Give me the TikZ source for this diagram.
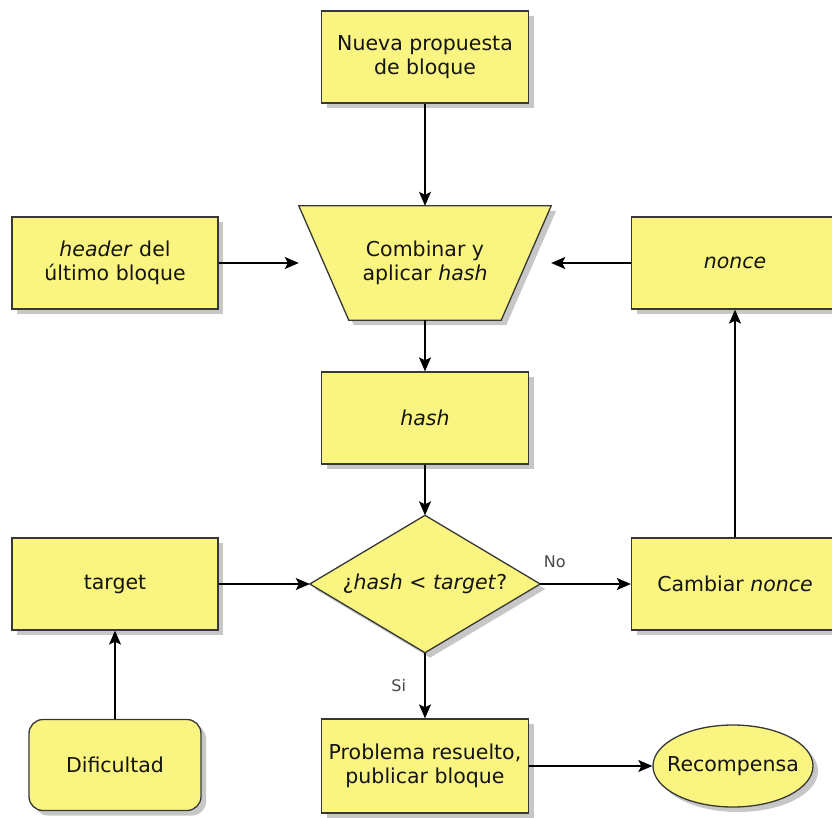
\documentclass[tikz,border=0pt]{standalone}
\usepackage{fontspec}
\setmainfont{DejaVu Sans}
\usetikzlibrary{shapes.geometric,shadows,arrows.meta,backgrounds}
\definecolor{boxfill}{RGB}{250,245,128}
\definecolor{boxline}{RGB}{55,55,55}
\definecolor{txt}{RGB}{20,20,20}
\definecolor{lbltxt}{RGB}{70,70,70}
\tikzset{
  softshadow/.style={drop shadow={shadow xshift=5pt,shadow yshift=-5pt,fill=black,opacity=0.22}},
  shapeline/.style={draw=boxline,line width=1.3pt,fill=boxfill,softshadow},
  label text/.style={align=center,font=\fontsize{20.5}{24}\selectfont,text=txt,inner sep=0pt},
  box/.style={shapeline,label text,minimum width=207pt,minimum height=92pt},
  flow/.style={-{Stealth[length=14pt,width=12pt,inset=3pt]},line width=1.4pt,draw=black},
  lbl/.style={font=\fontsize{16}{18}\selectfont,text=lbltxt}
}
\begin{document}
\begin{tikzpicture}[x=1pt,y=-1pt]
\useasboundingbox (0,0) rectangle (832,817);

% plain boxes
\node[box] (nueva) at (425,57) {Nueva propuesta\\de bloque};
\node[box,minimum width=206pt] (header) at (115,263) {\textit{header} del\\último bloque};
\node[box] (nonce) at (735,263) {\textit{nonce}};
\node[box] (hashbox) at (425,418) {\textit{hash}};
\node[box,minimum width=206pt] (target) at (115,584) {target};
\node[box] (cambiar) at (735,584) {Cambiar \textit{nonce}};
\node[box,minimum height=94pt] (problema) at (425,766) {Problema resuelto,\\publicar bloque};
\node[box,minimum width=172pt,minimum height=91pt,rounded corners=14pt] (dific) at (115,765) {Dificultad};
\node[box,ellipse,inner xsep=-14pt,minimum width=160pt,minimum height=82pt] (recomp) at (733,766) {Recompensa};

% trapezoid and decision diamond, outlined around their text nodes
\node[label text,minimum width=252pt,minimum height=114pt] (comb) at (425,263) {Combinar y\\aplicar \textit{hash}};
\node[label text,minimum width=230pt,minimum height=137pt] (dec) at (425,584) {¿\textit{hash < target}?};
\begin{scope}[on background layer]
  \path[shapeline] (comb.north west) -- (comb.north east)
     -- ([xshift=-50pt]comb.south east) -- ([xshift=50pt]comb.south west) -- cycle;
  \path[shapeline] (dec.north) -- (dec.east) -- (dec.south) -- (dec.west) -- cycle;
\end{scope}

% connectors
\draw[flow] (nueva.south) -- (comb.north);
\draw[flow] (header.east) -- (comb.west);
\draw[flow] (nonce.west) -- (comb.east);
\draw[flow] (comb.south) -- (hashbox.north);
\draw[flow] (hashbox.south) -- (dec.north);
\draw[flow] (target.east) -- (dec.west);
\draw[flow] (dec.east) -- node[lbl,pos=0.16,above=12pt] {No} (cambiar.west);
\draw[flow] (cambiar.north) -- (nonce.south);
\draw[flow] (dific.north) -- (target.south);
\draw[flow] (dec.south) -- node[lbl,pos=0.5,left=15pt] {Si} (problema.north);
\draw[flow] (problema.east) -- (recomp.west);
\end{tikzpicture}
\end{document}
